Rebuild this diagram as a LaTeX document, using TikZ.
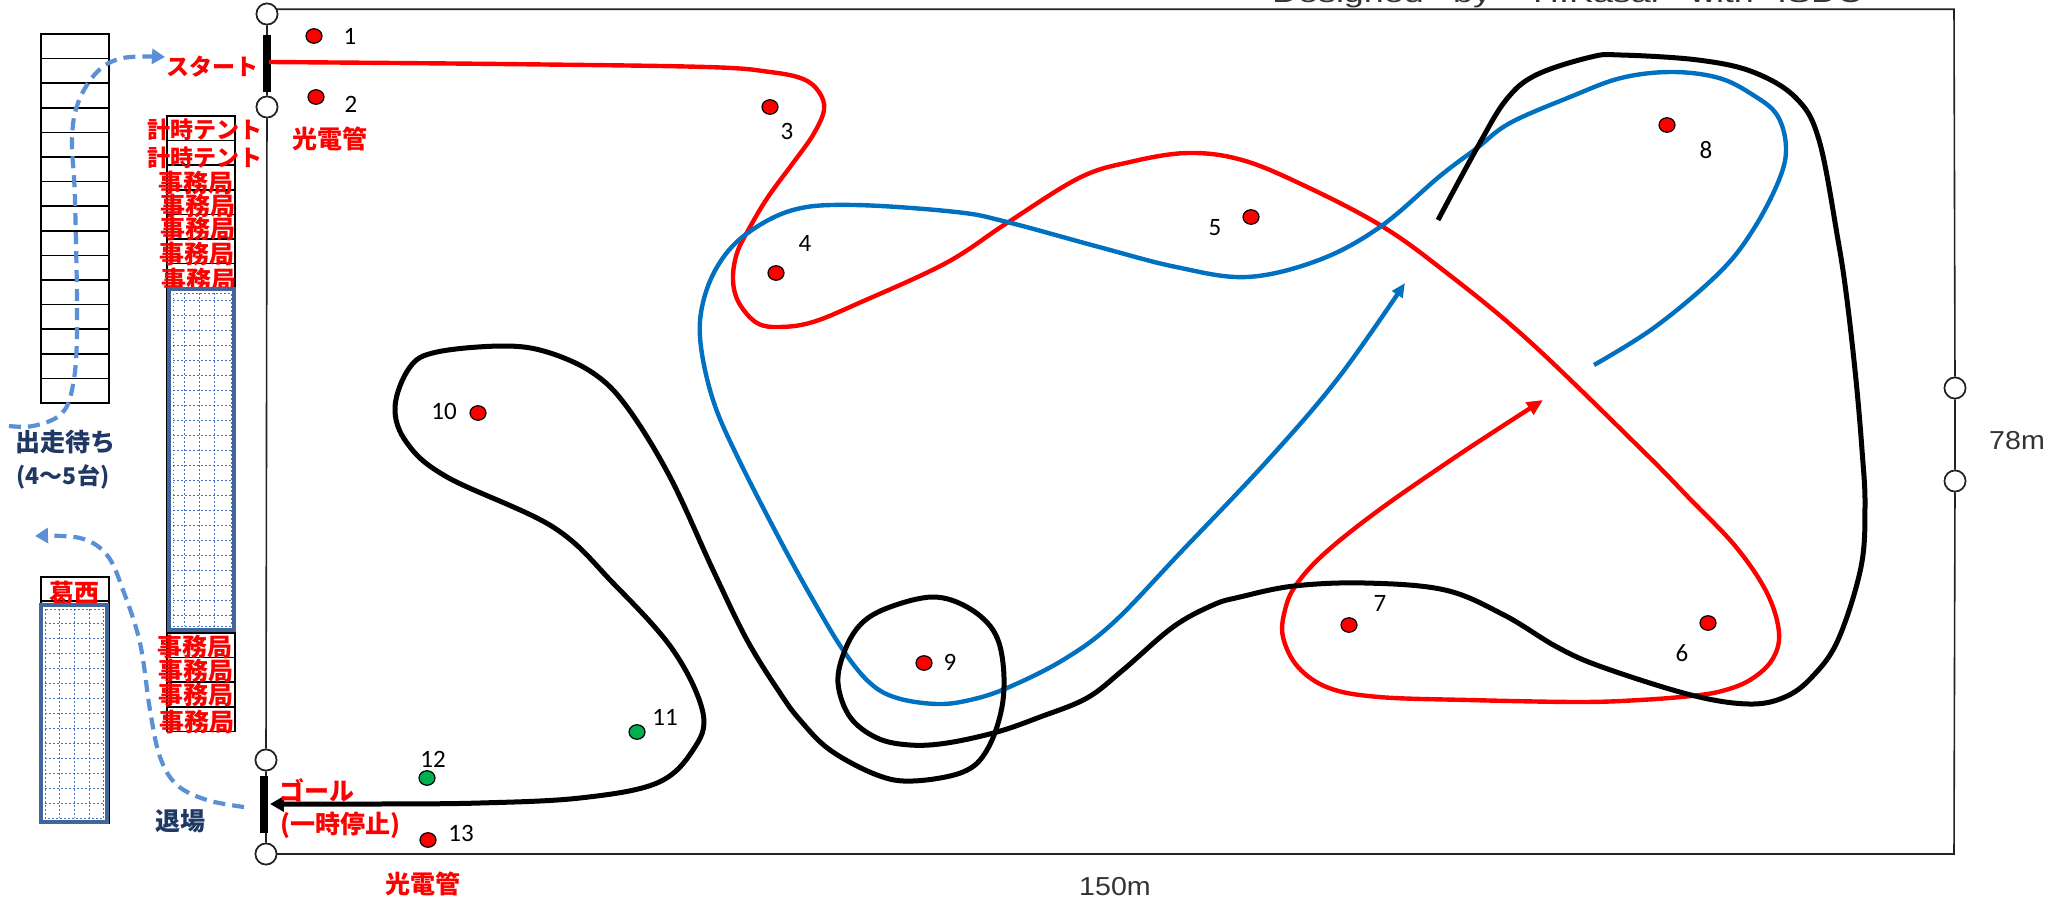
\documentclass[tikz,border=0pt]{standalone}
\usepackage{fontspec}
\setmainfont{Liberation Sans}
\newfontfamily\jpfont{Noto Sans CJK JP}
\newfontfamily\numfont{Carlito}
\usetikzlibrary{shapes.geometric,arrows.meta}
\definecolor{trkred}{HTML}{FF0000}
\definecolor{trkblue}{HTML}{0070C0}
\definecolor{trkgreen}{HTML}{00B050}
\definecolor{panelblue}{HTML}{41669A}
\definecolor{griddot}{HTML}{4472C4}
\definecolor{waitblue}{HTML}{5B8FD6}
\definecolor{navy}{HTML}{1F3864}
\definecolor{framegray}{HTML}{222222}
\tikzset{
  frameline/.style={draw=framegray,line width=1.6pt},
  post/.style={draw=framegray,fill=white,circle,inner sep=0pt,minimum size=21pt,line width=1.6pt},
  startbar/.style={fill=black,draw=none},
  cell/.style={draw=black,line width=1.5pt,fill=white},
  panel/.style={draw=panelblue,line width=4.4pt,fill=white},
  griddots/.style={griddot,line width=1pt,dash pattern=on 1.6pt off 2.4pt},
  trackr/.style={trkred,line width=4.4pt,line join=round},
  trackb/.style={trkblue,line width=4.4pt,line join=round},
  trackk/.style={black,line width=5pt,line join=round},
  waitpath/.style={waitblue,line width=4.2pt,dash pattern=on 12pt off 7pt},
  reddot/.style={ellipse,draw=black,fill=trkred,inner sep=0pt,minimum width=16pt,minimum height=14.5pt,line width=1.2pt},
  greendot/.style={ellipse,draw=black,fill=trkgreen,inner sep=0pt,minimum width=16pt,minimum height=14.5pt,line width=1.2pt},
  num/.style={font=\numfont\fontsize{25}{28}\selectfont,inner sep=0pt},
  redtxt/.style={font=\jpfont\bfseries\fontsize{25}{28}\selectfont,text=trkred,inner sep=0pt},
  redsmall/.style={font=\jpfont\bfseries\fontsize{23}{26}\selectfont,text=trkred,inner sep=0pt},
  navytxt/.style={font=\jpfont\bfseries\fontsize{25}{28}\selectfont,text=navy,inner sep=0pt},
  dimtxt/.style={font=\fontsize{26}{30}\selectfont,text=black!80,inner sep=0pt,xscale=1.1},
  toptxt/.style={font=\fontsize{26}{30}\selectfont,text=black!80,inner sep=0pt,anchor=base,xscale=1.38},
  smoothp/.style={smooth,tension=0.6}
}
\begin{document}
\begin{tikzpicture}[x=1pt,y=-1pt]
\useasboundingbox (0,0) rectangle (2067,899);
\clip (0,0) rectangle (2067,899);
\fill[white] (0,0) rectangle (2067,899);

% title clipped by top edge
\node[toptxt] (t1) at (1348,3) {Designed};
\node[toptxt] (t2) at (1472,3) {by};
\node[toptxt] (t3) at (1596,3) {H.Kasai};
\node[toptxt] (t4) at (1722,3) {with};
\node[toptxt] (t5) at (1820,3) {ISDC};

% frame
\coordinate (nw) at (266,9.3);
\coordinate (ne) at (1954,9.3);
\coordinate (se) at (1954,854);
\coordinate (sw) at (266,854);
\node[post] (p1) at (267,14) {};
\node[post] (p2) at (267,107) {};
\node[post] (p3) at (266,760) {};
\node[post] (p4) at (266,854) {};
\node[post] (r1) at (1955,388) {};
\node[post] (r2) at (1955,481) {};
\draw[frameline] (p1) -- (nw) -- (ne) -- (r1) -- (r2) -- (se) -- (sw) -- (p4);
\draw[frameline] (p1) -- (p2) -- (p3) -- (p4);
\node[post] at (p1) {};
\node[post] at (p2) {};
\node[post] at (p3) {};
\node[post] at (p4) {};
\node[post] at (r1) {};
\node[post] at (r2) {};

% waiting stack
\foreach \i in {0,...,14}
  \draw[cell] (41,{34+24.6*\i}) rectangle (109,{34+24.6*(\i+1)});
% centre stack
\foreach \i in {0,...,6}
  \draw[cell] (167,{116+24.6*\i}) rectangle (235,{116+24.6*(\i+1)});
\draw[cell] (167,288) rectangle (235,633);
\foreach \i in {0,...,3}
  \draw[cell] (167,{633+24.6*\i}) rectangle (235,{633+24.6*(\i+1)});
\draw[cell] (41,577) rectangle (109,601);
\draw[cell] (41,601) rectangle (109,823);

% labels on the stacks (centre panel is drawn over the last)
\node[redsmall] (a1) at (205,130) {計時テント};
\node[redsmall] (a2) at (205,158) {計時テント};
\node[redtxt] (b1) at (196,183) {事務局};
\node[redtxt] (b2) at (198,206) {事務局};
\node[redtxt] (b3) at (198,229) {事務局};
\node[redtxt] (b4) at (197,254) {事務局};
\node[redtxt] (b5) at (199,280) {事務局};
\node[redtxt] (k1) at (74,593) {葛西};

% panels
\draw[panel] (169,289) rectangle (234,630);
\draw[griddots] (173.5,293.5) rectangle (231,626);
\foreach \x in {184,199,214} \draw[griddots] (\x,293) -- (\x,626);
\foreach \i in {0,...,21} \draw[griddots] (173,{300+15*\i}) -- (231,{300+15*\i});
\draw[panel] (41,605) rectangle (107,822);
\draw[griddots] (45,609) rectangle (103.5,818);
\foreach \x in {59,74,89} \draw[griddots] (\x,609) -- (\x,818);
\foreach \i in {0,...,12} \draw[griddots] (45,{623+15*\i}) -- (103,{623+15*\i});

\node[redtxt] (c1) at (195,647) {事務局};
\node[redtxt] (c2) at (196,671) {事務局};
\node[redtxt] (c3) at (196,695) {事務局};
\node[redtxt] (c4) at (197,722) {事務局};

% start / goal bars
\fill[startbar] (263,35) rectangle (271,92);
\fill[startbar] (260,776) rectangle (268,833);

% tracks
\draw[trackr,-{Triangle[length=16pt,width=14pt]}] plot[smoothp] coordinates {(269,62) (500,64) (706,67) (770,72) (803,79) (819,92) (824,110) (813,135) (793,163) (768,197) (750,227) (737,253) (733,280) (739,303) (757,323) (780,327) (813,322) (859,303) (946,263) (1007,223) (1079,178) (1130,162) (1188,153) (1242,160) (1303,185) (1380,225) (1443,270) (1528,340) (1642,450) (1691,500) (1736,547) (1767,593) (1779,633) (1772,660) (1750,680) (1722,691) (1691,696) (1640,700) (1579,702) (1468,700) (1379,697) (1329,688) (1298,667) (1283,637) (1285,610) (1296,585) (1325,553) (1379,510) (1451,460) (1498,429) (1543,400)};

\draw[trackb,-{Triangle[length=14pt,width=12pt]}] plot[smoothp] coordinates {(1594,365) (1655,327) (1719,273) (1753,230) (1779,180) (1786,147) (1777,115) (1753,95) (1719,78) (1672,72) (1621,78) (1570,97) (1510,123) (1477,148) (1440,176) (1380,227) (1319,260) (1247,277) (1176,267) (1099,247) (1007,222) (956,212) (854,205) (793,210) (745,235) (717,267) (702,307) (701,347) (714,403) (739,460) (780,540) (813,600) (843,650) (870,683) (897,698) (937,704) (970,700) (1007,688) (1063,660) (1113,623) (1180,553) (1268,460) (1339,377) (1405,283)};

\draw[trackk,-{Triangle[length=14pt,width=15pt]}] plot[smoothp] coordinates {(1438,220) (1477,148) (1506,100) (1536,75) (1591,57) (1621,55) (1698,60) (1753,72) (1796,98) (1819,140) (1838,240) (1847,300) (1856,380) (1862,450) (1865,505) (1861,567) (1838,640) (1812,677) (1785,697) (1749,704) (1691,695) (1602,667) (1557,647) (1504,615) (1445,590) (1365,583) (1294,586) (1240,597) (1213,605) (1173,627) (1123,670) (1087,698) (1040,717) (997,732) (947,743) (910,745) (877,738) (850,717) (838,683) (845,650) (862,623) (890,607) (933,597) (967,607) (993,630) (1003,663) (1002,707) (987,750) (963,772) (913,781) (877,775) (830,750) (800,720) (780,693) (747,640) (713,570) (670,477) (627,407) (593,373) (547,352) (503,346) (437,352) (410,367) (395,407) (407,443) (447,477) (553,527) (613,583) (673,650) (703,713) (693,750) (657,783) (580,798) (480,803) (380,804) (270,804)};

% waiting paths
\draw[waitpath,-{Triangle[length=13pt,width=15pt]}] plot[smoothp] coordinates {(9,426) (33,426) (60,415) (72,390) (77,333) (75,200) (72,140) (78,103) (97,72) (123,58) (165,57)};
\draw[waitpath,-{Triangle[length=13pt,width=15pt]}] plot[smoothp] coordinates {(244,807) (207,800) (177,785) (160,757) (150,710) (140,643) (123,590) (107,555) (80,538) (35,536)};

% markers
\node[reddot] (m1) at (314,36) {};
\node[reddot] (m2) at (316,97) {};
\node[reddot] (m3) at (770,107) {};
\node[reddot] (m4) at (776,273) {};
\node[reddot] (m5) at (1251,217) {};
\node[reddot] (m6) at (1708,623) {};
\node[reddot] (m7) at (1349,625) {};
\node[reddot] (m8) at (1667,125) {};
\node[reddot] (m9) at (924,663) {};
\node[reddot] (m10) at (478,413) {};
\node[greendot] (m11) at (637,732) {};
\node[greendot] (m12) at (427,778) {};
\node[reddot] (m13) at (428,840) {};
\node[num] at (350,36) {1};
\node[num] at (351,104) {2};
\node[num] at (787,131) {3};
\node[num] at (805,243) {4};
\node[num] at (1215,228) {5};
\node[num] at (1682,653) {6};
\node[num] at (1380,603) {7};
\node[num] at (1706,150) {8};
\node[num] at (950,662) {9};
\node[num] at (444,411) {10};
\node[num] at (665,717) {11};
\node[num] at (433,759) {12};
\node[num] at (461,833) {13};

% text
\node[redsmall] (st) at (212,67) {スタート};
\node[redtxt] (pt1) at (330,139) {光電管};
\node[redtxt] (pt2) at (423,884) {光電管};
\node[redtxt] (gl) at (317,790) {ゴール};
\node[redtxt] (gl2) at (340,825) {(一時停止)};
\node[navytxt] (ex) at (180,821) {退場};
\node[navytxt] (w1) at (66,442) {出走待ち};
\node[navytxt,font=\jpfont\bfseries\fontsize{23}{26}\selectfont] (w2) at (63,477) {(4〜5台)};
\node[dimtxt] (d1) at (1115,887) {150m};
\node[dimtxt] (d2) at (2017,441) {78m};
\end{tikzpicture}
\end{document}
